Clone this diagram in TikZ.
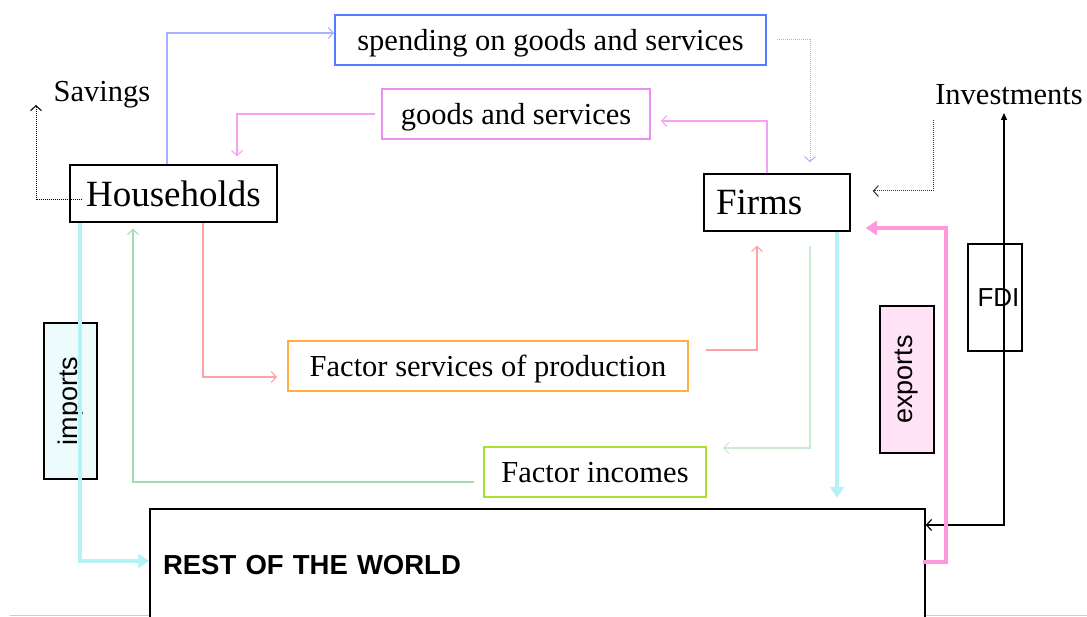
\documentclass[tikz,border=0pt]{standalone}
\usepackage{fontspec}
\setmainfont{Liberation Serif}
\setsansfont{Liberation Sans}
\usetikzlibrary{positioning}
\usetikzlibrary{calc,arrows.meta}

\definecolor{spendblue}{HTML}{4F7FFF}
\definecolor{spendline}{HTML}{A6B2FF}
\definecolor{goodsmag}{HTML}{E890F0}
\definecolor{goodsline}{HTML}{F6A0F6}
\definecolor{factorange}{HTML}{FFAE40}
\definecolor{factline}{HTML}{FFA2A2}
\definecolor{incgreen}{HTML}{A8E030}
\definecolor{incline}{HTML}{A2DCB0}
\definecolor{impcyan}{HTML}{B4F2F8}
\definecolor{imfill}{HTML}{EEFBFD}
\definecolor{expink}{HTML}{FF99DD}
\definecolor{exfill}{HTML}{FFE2F6}

\begin{document}
\begin{tikzpicture}[x=1pt,y=-1pt,
    serif/.style={font=\fontsize{30.5}{33}\selectfont},
    big/.style={font=\fontsize{37}{40}\selectfont},
    sans/.style={font=\sffamily\fontsize{27}{30}\selectfont},
    box/.style={draw, inner sep=0pt, line width=1.5pt},
    cbox/.style={draw, inner sep=0pt, line width=2pt, serif, text depth=0pt},
    flow/.style={line width=1.1pt, -{Straight Barb[length=5pt,width=11pt]}},
    dotflow/.style={line width=1pt, densely dotted,
                 -{Straight Barb[length=5pt,width=11pt]}},
    bigflow/.style={line width=4.5pt, -{Triangle[length=11pt,width=14pt]}}]

    \useasboundingbox (0,0) rectangle (1087,617);
    \clip (0,0) rectangle (1087,617);

    \draw[expink!80, line width=1pt] (10,615.5) -- (1087,615.5);

    % sectors
    \node (house) [box, big, minimum width=207pt, minimum height=57pt] at (173.5,193.5) {Households};
    \node (firms) [box, big, minimum height=57pt, text width=122pt, inner xsep=12pt, align=left] at (777,202.5) {Firms};
    \node (rest)  [box, fill=white, font=\sffamily\bfseries\fontsize{27.5}{30}\selectfont,
                   minimum height=112pt, text width=749pt, inner xsep=13pt, align=left] at (537.5,565) {REST OF THE WORLD};

    % flows
    \node (spend)   [cbox, draw=spendblue, minimum width=431pt, minimum height=50pt] at (550.5,40) {spending on goods and services};
    \node (goods)   [cbox, draw=goodsmag, minimum width=268pt, minimum height=50pt] at (516,114) {goods and services};
    \node (factsrv) [cbox, draw=factorange, minimum width=400pt, minimum height=50pt] at (488,366) {Factor services of production};
    \node (factinc) [cbox, draw=incgreen, minimum width=222pt, minimum height=50pt] at (595,472) {Factor incomes};

    \node (sav) [serif] at (102,95) {Savings};
    \node (inv) [serif] at (1009,95) {Investments};
    \coordinate (savtip) at (36,105);
    \coordinate (invfoot) at (933,120);
    \coordinate (fditop) at (1004,113);

    \node (imports) [box, fill=imfill, sans, rotate=90, minimum width=156pt, minimum height=53pt] at (70.5,401) {imports};
    \node (exports) [box, fill=exfill, sans, rotate=90, minimum width=147pt, minimum height=54pt] at (907,379.5) {exports};
    \node (fdi) [box, font=\sffamily\fontsize{26}{28}\selectfont, minimum width=54pt, minimum height=107pt] at (995,297.5) {\hspace{7pt}FDI};

    % inner circuit
    \draw[flow, spendline] ([xshift=-6.5pt]house.north) |- ([yshift=7pt]spend.west);
    \draw[dotflow, spendline] ([xshift=10pt]spend.east) -| ([xshift=33pt,yshift=11pt]firms.north);
    \draw[flow, goodsline] ([xshift=-10pt]firms.north) |- ([xshift=10pt,yshift=-7pt]goods.east);
    \draw[flow, goodsline] ([xshift=-6pt]goods.west) -| ([xshift=63.5pt,yshift=8pt]house.north);
    \draw[flow, factline] ([xshift=29.5pt]house.south) |- ([xshift=-10pt,yshift=-11pt]factsrv.west);
    \draw[flow, factline] ([xshift=17pt,yshift=16pt]factsrv.east) -| ([xshift=-20pt,yshift=-14pt]firms.south);
    \draw[flow, incline!60] ([xshift=33pt,yshift=-14pt]firms.south) |- ([xshift=16pt,yshift=24pt]factinc.east);
    \draw[flow, incline] ([xshift=-9pt,yshift=-10pt]factinc.west) -| ([xshift=-40.5pt,yshift=-6pt]house.south);

    % leakages and injections
    \draw[dotflow, black] ([xshift=13pt,yshift=-6.5pt]house.west) -| (savtip);
    \draw[dotflow, black!80] (invfoot) |- ([xshift=22pt,yshift=11.5pt]firms.east);
    \draw[line width=1.2pt, {Straight Barb[length=5pt,width=11pt]}-{Triangle[length=7pt,width=6pt]}]
        ([yshift=40pt]rest.east) -| (fditop);

    % foreign trade
    \draw[bigflow, impcyan] ([xshift=-93.5pt]house.south) |- ([yshift=4pt]rest.west);
    \draw[bigflow, impcyan] ([xshift=60pt]firms.south) -- ++(0,266);
    \draw[bigflow, expink] ([xshift=-3pt,yshift=3pt]rest.east) -- ++(23,0) |- ([xshift=15pt,yshift=-25.5pt]firms.east);

\end{tikzpicture}
\end{document}
